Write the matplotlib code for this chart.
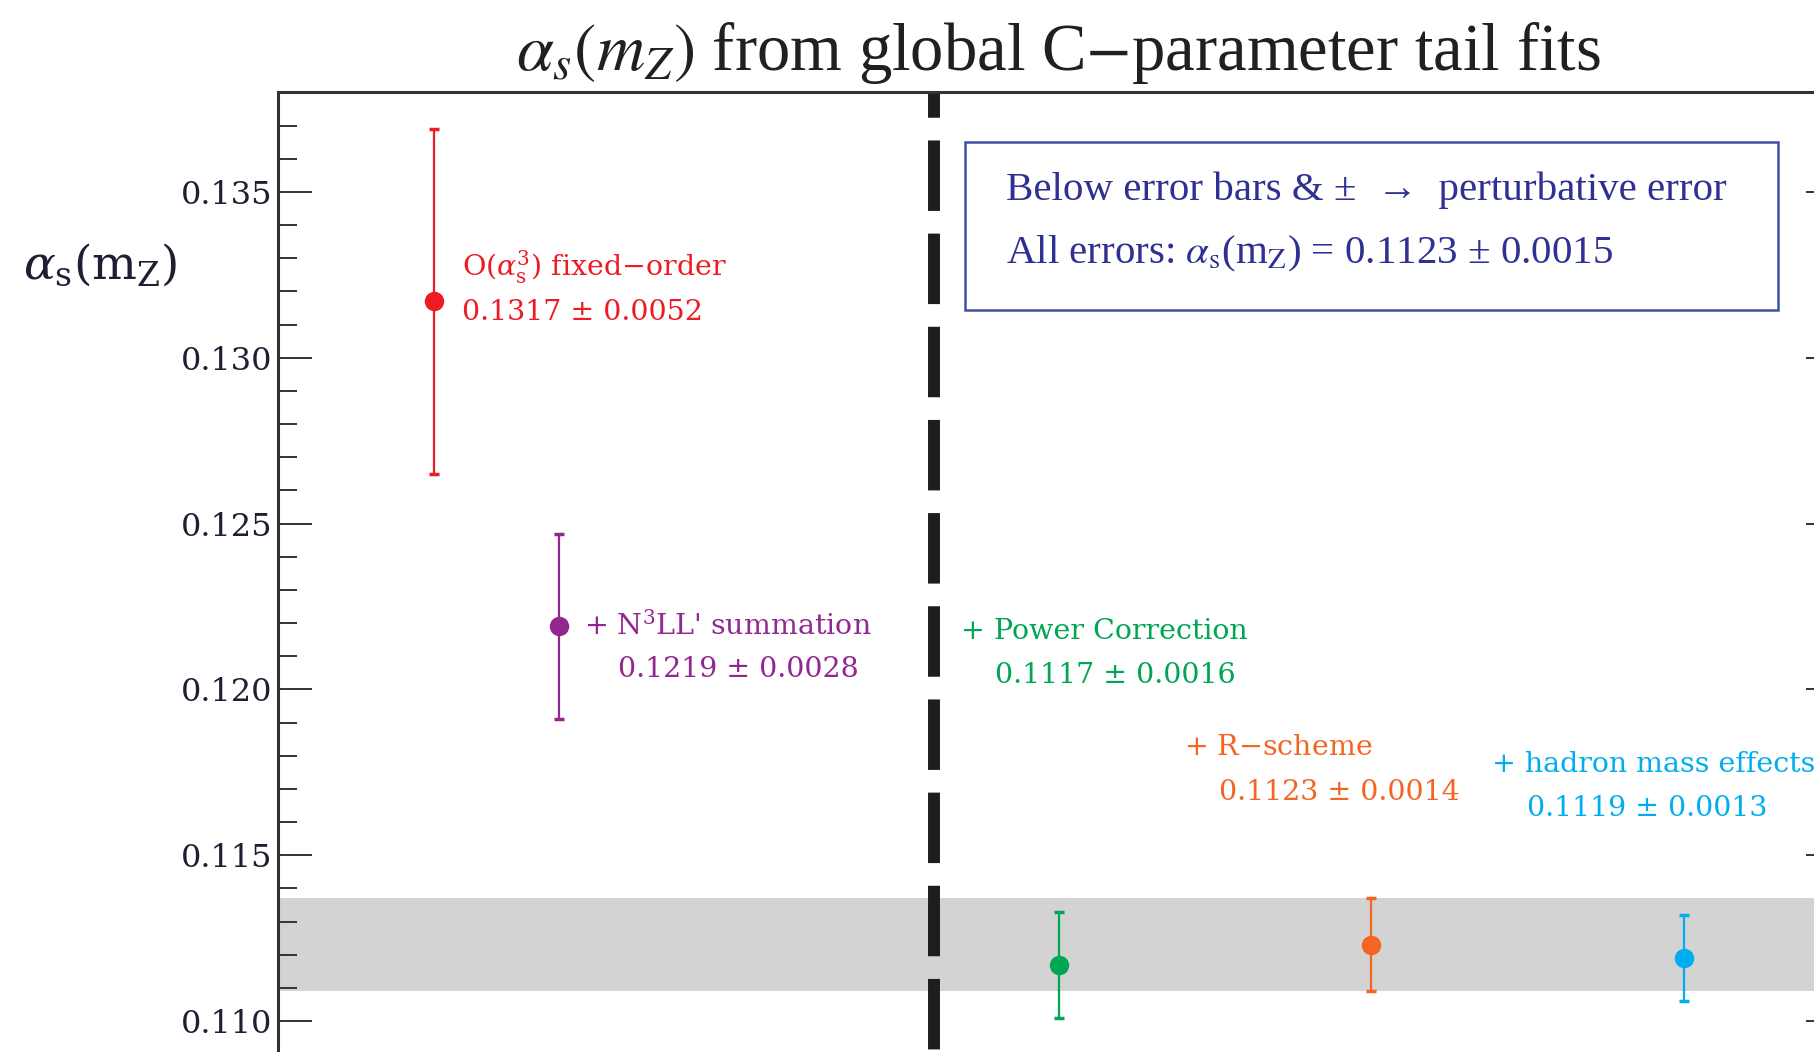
import matplotlib
matplotlib.use('Agg')
import matplotlib.pyplot as plt
from matplotlib.patches import Rectangle
from matplotlib.ticker import MultipleLocator, FormatStrFormatter

# alpha_s(mZ) fits, each step adds one ingredient to the previous one
fit_names = [r'O($\alpha_{\mathrm{s}}^3$) fixed$-$order',
             "+ N$^3$LL' summation",
             '+ Power Correction',
             '+ R$-$scheme',
             '+ hadron mass effects']
fit_x = [0.0, 0.4, 2.0, 3.0, 4.0]
fit_values = [0.1317, 0.1219, 0.1117, 0.1123, 0.1119]
fit_errors = [0.0052, 0.0028, 0.0016, 0.0014, 0.0013]
fit_colors = ['#ed1c24', '#92278f', '#00a651', '#f26522', '#00aeef']

# where the two text lines of each fit go (data coords)
name_pos = [(0.09, 0.13271), (0.48, 0.12193), (1.686, 0.12175), (2.40, 0.11825), (3.385, 0.11774)]
value_pos = [(0.09, 0.13136), (0.59, 0.12060), (1.795, 0.12042), (2.513, 0.11690), (3.497, 0.11642)]

band_idx = 3           # R-scheme fit sets the grey band
total_value = 0.1123
total_error = 0.0015

plt.rcParams['mathtext.fontset'] = 'dejavuserif'

fig = plt.figure(figsize=(18.15, 10.52), dpi=100)
ax = fig.add_axes([0.1531, -0.0337, 0.8606, 0.9459])
ax.set_xlim(-0.5, 4.5)
ax.set_ylim(0.108, 0.138)

# perturbative error band of the best fit
b = fit_values[band_idx]
e = fit_errors[band_idx]
ax.axhspan(b - e, b + e, color='#d3d3d3', lw=0, zorder=0)

# separator between fixed order/resummation and the full fits
ax.axvline(1.6, color='#1e1c1d', lw=8.6, linestyle=(7.5, (5.9, 1.9)),
           dash_capstyle='butt', zorder=1)

for x, v, err, c in zip(fit_x, fit_values, fit_errors, fit_colors):
    ax.errorbar(x, v, yerr=err, fmt='o', color=c, ms=13, elinewidth=1.6,
                capsize=3.5, capthick=2.5, zorder=3)

for name, v, err, c, p1, p2 in zip(fit_names, fit_values, fit_errors, fit_colors,
                                   name_pos, value_pos):
    ax.text(p1[0], p1[1], name, color=c, fontsize=20.5, family='DejaVu Serif',
            va='center', ha='left')
    ax.text(p2[0], p2[1], f'{v:.4f} ± {err:.4f}', color=c, fontsize=20.5,
            family='DejaVu Serif', va='center', ha='left')

# info box
ax.add_patch(Rectangle((1.699, 0.13145), 4.301 - 1.699, 0.13651 - 0.13145,
                       fill=False, edgecolor='#3f51a6', lw=1.8, zorder=2))
ax.text(1.83, 0.13506, 'Below error bars & ±  →  perturbative error',
        color='#2e3192', fontsize=29.5, family='Liberation Serif',
        va='center', ha='left')
ax.text(1.83, 0.13313,
        r'All errors: $\alpha_{\mathrm{s}}$(m$_\mathrm{Z}$) = '
        + f'{total_value:.4f} ± {total_error:.4f}',
        color='#2e3192', fontsize=29.5, family='Liberation Serif',
        math_fontfamily='stix', va='center', ha='left')

# axes styling
ax.set_xticks([])
ax.yaxis.set_major_locator(MultipleLocator(0.005))
ax.yaxis.set_minor_locator(MultipleLocator(0.001))
ax.yaxis.set_major_formatter(FormatStrFormatter('%.3f'))
ax.tick_params(axis='y', which='both', direction='in', left=True, right=True,
               color='#333333', width=1.4, labelsize=23, labelcolor='#1f1f33', pad=4)
ax.tick_params(axis='y', which='major', length=24.5)
ax.tick_params(axis='y', which='minor', length=13.7)
for lbl in ax.get_yticklabels():
    lbl.set_family('DejaVu Serif')
for s in ax.spines.values():
    s.set_color('#333333')
    s.set_linewidth(2.2)

ax.set_title(r'$\alpha_s(m_Z)$ from global C$-$parameter tail fits',
             fontsize=48, family='Liberation Serif', math_fontfamily='stix',
             color='#231f20', pad=16)
fig.text(0.0127, 0.748, r'$\alpha_{\mathrm{s}}(\mathrm{m_Z})$', fontsize=34,
         color='#1f1f33', va='center', ha='left')

fig.savefig('out.png', dpi=100)
